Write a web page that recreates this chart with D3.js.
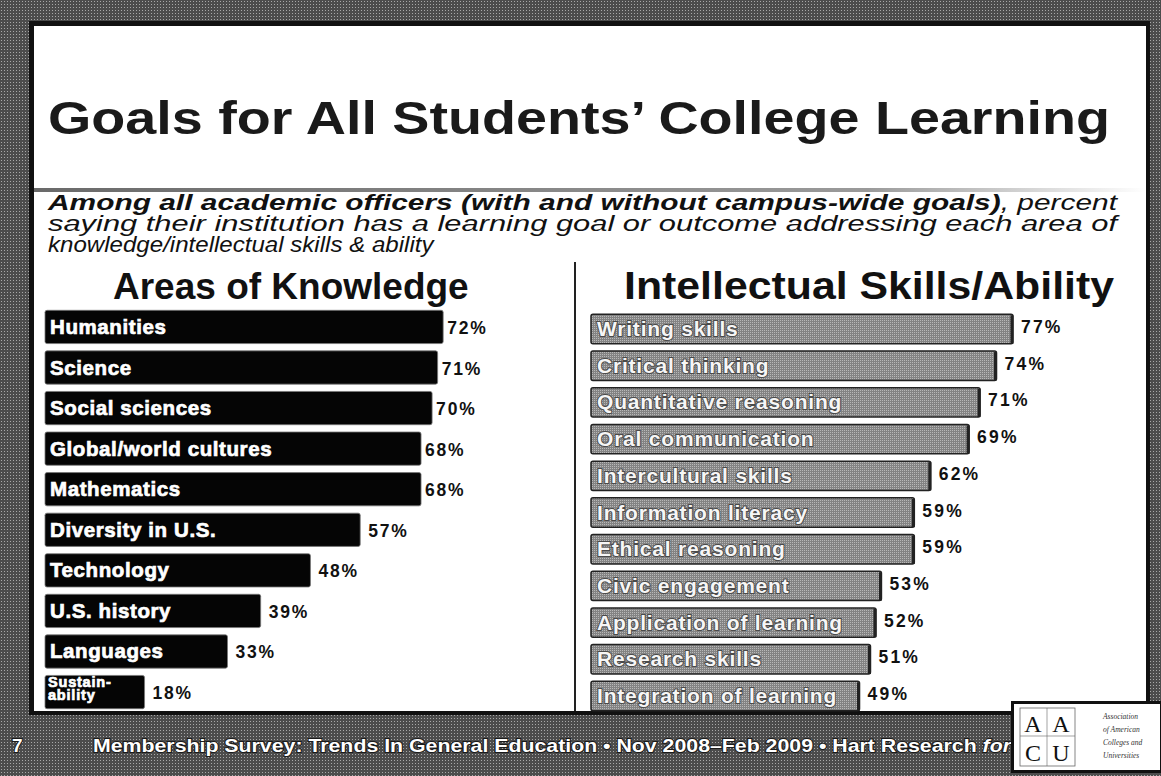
<!DOCTYPE html>
<html lang="en">
<head>
  <meta charset="utf-8">
  <title>Goals for All Students' College Learning</title>
  <script src="https://d3js.org/d3.v7.min.js"></script>
  <style>
    html, body { margin: 0; padding: 0; background: #5e5e5e; }
    svg { display: block; font-family: "Liberation Sans", Arial, sans-serif; }
  </style>
</head>
<body>
  <svg id="chart" width="1161" height="776"></svg>
  <script>
    // Data
    const knowledgeAreas = ["Humanities", "Science", "Social sciences", "Global/world cultures", "Mathematics",
      "Diversity in U.S.", "Technology", "U.S. history", "Languages", "Sustainability"];
    const knowledgeValues = [72, 71, 70, 68, 68, 57, 48, 39, 33, 18];

    const skillAreas = ["Writing skills", "Critical thinking", "Quantitative reasoning", "Oral communication",
      "Intercultural skills", "Information literacy", "Ethical reasoning", "Civic engagement",
      "Application of learning", "Research skills", "Integration of learning"];
    const skillValues = [77, 74, 71, 69, 62, 59, 59, 53, 52, 51, 49];

    const W = 1161, H = 776;
    const svg = d3.select('#chart');
    const defs = svg.append('defs');

    // halftone-ish gray for the frame
    const pat = defs.append('pattern').attr('id', 'dots').attr('width', 3).attr('height', 3)
      .attr('patternUnits', 'userSpaceOnUse');
    pat.append('rect').attr('width', 3).attr('height', 3).attr('fill', '#4c4c4c');
    pat.append('rect').attr('x', 1).attr('y', 1).attr('width', 1).attr('height', 1).attr('fill', '#a8a8a8');

    const barPat = defs.append('pattern').attr('id', 'bardots').attr('width', 2).attr('height', 2)
      .attr('patternUnits', 'userSpaceOnUse');
    barPat.append('rect').attr('width', 2).attr('height', 2).attr('fill', '#838383');
    barPat.append('rect').attr('width', 1).attr('height', 1).attr('fill', '#b8b8b8');

    const fade = defs.append('linearGradient').attr('id', 'fade');
    fade.append('stop').attr('offset', '0%').attr('stop-color', '#6a6a6a');
    fade.append('stop').attr('offset', '75%').attr('stop-color', '#9a9a9a');
    fade.append('stop').attr('offset', '100%').attr('stop-color', '#fff');

    // frame
    svg.append('rect').attr('width', W).attr('height', H).attr('fill', 'url(#dots)');
    svg.append('rect').attr('x', 29).attr('y', 21).attr('width', 1121).attr('height', 694)
      .attr('fill', '#111');
    svg.append('rect').attr('x', 34).attr('y', 26).attr('width', 1112).attr('height', 685)
      .attr('fill', '#fff');

    // title
    svg.append('text').attr('x', 48).attr('y', 134)
      .attr('font-size', 47).attr('font-weight', 'bold').attr('fill', '#1a1a1a')
      .attr('textLength', 1062).attr('lengthAdjust', 'spacingAndGlyphs')
      .text('Goals for All Students\u2019 College Learning');

    svg.append('rect').attr('x', 34).attr('y', 188).attr('width', 1112).attr('height', 4)
      .attr('fill', 'url(#fade)');

    // subtitle: the first two lines run to the right margin, the last one is a little widened
    const sub = svg.append('g').attr('font-size', 21.5).attr('font-style', 'italic').attr('fill', '#111');
    const l1 = sub.append('text').attr('x', 48).attr('y', 210)
      .attr('textLength', 1069).attr('lengthAdjust', 'spacingAndGlyphs');
    l1.append('tspan').attr('font-weight', 'bold').text('Among all academic officers (with and without campus-wide goals)');
    l1.append('tspan').text(', percent');
    sub.append('text').attr('x', 48).attr('y', 231)
      .attr('textLength', 1069).attr('lengthAdjust', 'spacingAndGlyphs')
      .text('saying their institution has a learning goal or outcome addressing each area of');
    const l3 = sub.append('text').attr('x', 48).attr('y', 252)
      .text('knowledge/intellectual skills & ability');
    l3.attr('textLength', l3.node().getComputedTextLength() * 1.12).attr('lengthAdjust', 'spacingAndGlyphs');

    // headings
    svg.append('text').attr('x', 113).attr('y', 299)
      .attr('font-size', 37).attr('font-weight', 'bold').attr('fill', '#111')
      .text('Areas of Knowledge');
    svg.append('text').attr('x', 624).attr('y', 299)
      .attr('font-size', 38).attr('font-weight', 'bold').attr('fill', '#111')
      .attr('textLength', 490).attr('lengthAdjust', 'spacingAndGlyphs')
      .text('Intellectual Skills/Ability');

    // divider
    svg.append('line').attr('x1', 575).attr('x2', 575).attr('y1', 262).attr('y2', 711)
      .attr('stroke', '#222').attr('stroke-width', 2);

    // left chart
    const xL = d3.scaleLinear().domain([0, 100]).range([45, 45 + 553]);
    const yL = d3.scaleBand().domain(knowledgeAreas).range([303, 716]).padding(0.18);
    const gL = svg.append('g');
    gL.selectAll('rect').data(knowledgeAreas).enter().append('rect')
      .attr('x', xL(0)).attr('y', d => yL(d))
      .attr('width', (d, i) => xL(knowledgeValues[i]) - xL(0))
      .attr('height', yL.bandwidth())
      .attr('rx', 2)
      .attr('fill', '#050505').attr('stroke', '#777').attr('stroke-width', 0.8);
    gL.selectAll('text.lab').data(knowledgeAreas).enter().append('text')
      .attr('class', 'lab')
      .attr('x', xL(0) + 5)
      .attr('y', d => yL(d) + yL.bandwidth() / 2 + 7)
      .attr('font-size', 20.5).attr('font-weight', 'bold').attr('fill', '#fff')
      .attr('stroke', '#fff').attr('stroke-width', 0.7)
      .attr('letter-spacing', 0.6)
      .each(function (d) {
        const t = d3.select(this);
        if (d === 'Sustainability') {
          t.attr('font-size', 14.5).attr('letter-spacing', 0.8).attr('y', yL(d) + 12);
          t.append('tspan').attr('x', xL(0) + 3).text('Sustain-');
          t.append('tspan').attr('x', xL(0) + 3).attr('dy', 13).text('ability');
        } else {
          t.text(d);
        }
      });
    gL.selectAll('text.val').data(knowledgeAreas).enter().append('text')
      .attr('class', 'val')
      .attr('x', (d, i) => xL(knowledgeValues[i]) + (knowledgeValues[i] > 65 ? 4 : 8))
      .attr('y', d => yL(d) + yL.bandwidth() / 2 + 7)
      .attr('font-size', 17.5).attr('font-weight', 'bold').attr('fill', '#111')
      .attr('letter-spacing', 1.8)
      .text((d, i) => knowledgeValues[i] + '%');

    // right chart
    const xR = d3.scaleLinear().domain([0, 100]).range([591, 591 + 548]);
    const yR = d3.scaleBand().domain(skillAreas).range([307, 718]).padding(0.2);
    const gR = svg.append('g');
    gR.selectAll('rect.bar').data(skillAreas).enter().append('rect')
      .attr('class', 'bar')
      .attr('x', xR(0)).attr('y', d => yR(d))
      .attr('width', (d, i) => xR(skillValues[i]) - xR(0))
      .attr('height', yR.bandwidth())
      .attr('rx', 2)
      .attr('fill', 'url(#bardots)').attr('stroke', '#222').attr('stroke-width', 1.5);
    gR.selectAll('line.edge').data(skillAreas).enter().append('line')
      .attr('class', 'edge')
      .attr('x1', (d, i) => xR(skillValues[i]) - 1).attr('x2', (d, i) => xR(skillValues[i]) - 1)
      .attr('y1', d => yR(d) + 1).attr('y2', d => yR(d) + yR.bandwidth())
      .attr('stroke', '#222').attr('stroke-width', 3);
    gR.selectAll('text.lab').data(skillAreas).enter().append('text')
      .attr('class', 'lab')
      .attr('x', xR(0) + 6)
      .attr('y', d => yR(d) + yR.bandwidth() / 2 + 7)
      .attr('font-size', 21).attr('font-weight', 'bold').attr('fill', '#f6f6f6')
      .attr('letter-spacing', 0.8)
      .attr('stroke', '#4a4a4a').attr('stroke-width', 2).attr('paint-order', 'stroke')
      .text(d => d);
    gR.selectAll('text.val').data(skillAreas).enter().append('text')
      .attr('class', 'val')
      .attr('x', (d, i) => xR(skillValues[i]) + 8)
      .attr('y', d => yR(d) + yR.bandwidth() / 2 + 4)
      .attr('font-size', 17.5).attr('font-weight', 'bold').attr('fill', '#111')
      .attr('letter-spacing', 2.2)
      .text((d, i) => skillValues[i] + '%');

    // footer
    const foot = svg.append('g').attr('fill', '#fff').attr('font-weight', 'bold').attr('font-size', 19)
      .attr('stroke', '#1a1a1a').attr('stroke-width', 2).attr('paint-order', 'stroke');
    foot.append('text').attr('x', 12).attr('y', 752).text('7');
    const ft = foot.append('text').attr('x', 93).attr('y', 752)
      .attr('textLength', 918).attr('lengthAdjust', 'spacingAndGlyphs');
    ft.append('tspan').text('Membership Survey: Trends In General Education \u2022 Nov 2008\u2013Feb 2009 \u2022 Hart Research ');
    ft.append('tspan').attr('font-style', 'italic').text('for');

    // logo
    const logo = svg.append('g');
    logo.append('rect').attr('x', 1011).attr('y', 701).attr('width', 150).attr('height', 72)
      .attr('fill', '#111');
    logo.append('rect').attr('x', 1014).attr('y', 704).attr('width', 146).attr('height', 66)
      .attr('fill', '#fff');
    logo.append('rect').attr('x', 1020).attr('y', 708).attr('width', 55).attr('height', 58)
      .attr('fill', 'none').attr('stroke', '#666').attr('stroke-width', 0.8);
    logo.append('line').attr('x1', 1047).attr('x2', 1047).attr('y1', 708).attr('y2', 766)
      .attr('stroke', '#666').attr('stroke-width', 0.6);
    logo.append('line').attr('x1', 1020).attr('x2', 1075).attr('y1', 736).attr('y2', 736)
      .attr('stroke', '#666').attr('stroke-width', 0.6);
    const serif = logo.append('g').attr('font-family', '"Liberation Serif", "DejaVu Serif", serif')
      .attr('fill', '#111');
    serif.append('text').attr('x', 1033).attr('y', 732).attr('text-anchor', 'middle').attr('font-size', 24).text('A');
    serif.append('text').attr('x', 1061).attr('y', 732).attr('text-anchor', 'middle').attr('font-size', 24).text('A');
    serif.append('text').attr('x', 1033).attr('y', 761).attr('text-anchor', 'middle').attr('font-size', 24).text('C');
    serif.append('text').attr('x', 1061).attr('y', 761).attr('text-anchor', 'middle').attr('font-size', 24).text('U');
    const small = logo.append('g').attr('font-family', '"Liberation Serif", serif').attr('font-style', 'italic')
      .attr('font-size', 7.5).attr('fill', '#333');
    ['Association', 'of American', 'Colleges and', 'Universities'].forEach((s, i) => {
      small.append('text').attr('x', 1103).attr('y', 719 + i * 13).text(s);
    });
  </script>
</body>
</html>
